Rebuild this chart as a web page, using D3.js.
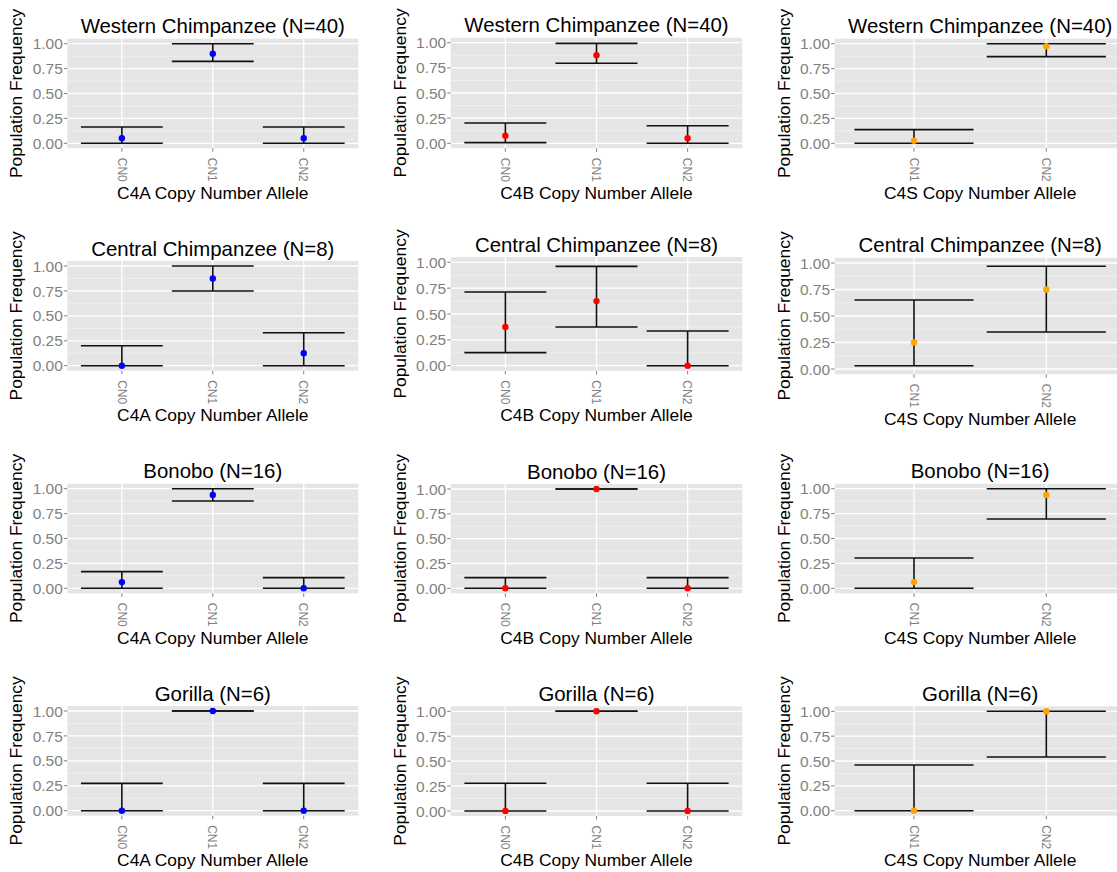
<!DOCTYPE html>
<html>
<head>
<meta charset="utf-8">
<script src="https://cdn.jsdelivr.net/npm/d3@7"></script>
<style>
  html, body { margin: 0; padding: 0; background: #ffffff; }
  svg { display: block; }
  text { font-family: "Liberation Sans", Arial, Helvetica, sans-serif; }
</style>
</head>
<body>
<svg id="chart" width="1117" height="872"></svg>
<script>
// ---------------- DATA ----------------
const speciesTitles = ["Western Chimpanzee (N=40)", "Central Chimpanzee (N=8)", "Bonobo (N=16)", "Gorilla (N=6)"];
const genes = ["C4A", "C4B", "C4S"];
const xTitles = ["C4A Copy Number Allele", "C4B Copy Number Allele", "C4S Copy Number Allele"];
const catsAB = ["CN0", "CN1", "CN2"];
const catsS = ["CN1", "CN2"];
const yTickValues = [0, 0.25, 0.5, 0.75, 1];
const yTickLabels = ["0.00", "0.25", "0.50", "0.75", "1.00"];
const yMinorValues = [0.125, 0.375, 0.625, 0.875];
const yTitle = "Population Frequency";

// rows = species, entries = categories
const c4aFreq = [[0.05, 0.9, 0.05], [0, 0.875, 0.125], [0.0625, 0.9375, 0], [0, 1, 0]];
const c4aLow  = [[0, 0.823, 0], [0, 0.75, 0], [0, 0.876, 0], [0, 1, 0]];
const c4aHigh = [[0.164, 1, 0.164], [0.2, 1, 0.33], [0.167, 1, 0.107], [0.274, 1, 0.274]];

const c4bFreq = [[0.075, 0.875, 0.05], [0.375, 0.625, 0], [0, 1, 0], [0, 1, 0]];
const c4bLow  = [[0.007, 0.795, 0], [0.126, 0.374, 0], [0, 1, 0], [0, 1, 0]];
const c4bHigh = [[0.202, 0.993, 0.175], [0.713, 0.961, 0.335], [0.107, 1, 0.107], [0.278, 1, 0.278]];

const c4sFreq = [[0.025, 0.975], [0.25, 0.75], [0.0625, 0.9375], [0, 1]];
const c4sLow  = [[0, 0.87], [0.031, 0.349], [0, 0.696], [0, 0.54]];
const c4sHigh = [[0.137, 1], [0.651, 0.969], [0.304, 1], [0.46, 1]];

// ---------------- LAYOUT / STYLE ----------------
const geneData = [
  { cats: catsAB, freq: c4aFreq, low: c4aLow, high: c4aHigh, color: "#0000FF" },
  { cats: catsAB, freq: c4bFreq, low: c4bLow, high: c4bHigh, color: "#FF0000" },
  { cats: catsS,  freq: c4sFreq, low: c4sLow, high: c4sHigh, color: "#FFA500" }
];
const colX = [[67.3, 358.3], [450.7, 742.3], [834.6, 1125.7]];
// pixel of value 1 and value 0 for each row/col
const rowY = [
  [[43.7, 143.3], [42.7, 143.3], [43.7, 143.3]],
  [[266, 365.7], [262.3, 365.7], [263, 369]],
  [[488.7, 588.3], [489, 588.3], [488.7, 588.3]],
  [[711, 810.7], [711.3, 811], [711.3, 810.7]]
];
const FS_TITLE = 20.4, FS_AXIS = 17.4, FS_YTICK = 15.5, FS_XTICK = 12;

const svg = d3.select("#chart");
svg.append("rect").attr("width", 1117).attr("height", 872).attr("fill", "#ffffff");

speciesTitles.forEach((title, r) => {
  genes.forEach((gene, c) => {
    const gd = geneData[c];
    const [x0, x1] = colX[c];
    const [py1, py0] = rowY[r][c];
    const y = d3.scaleLinear().domain([0, 1]).range([py0, py1]);
    const x = d3.scalePoint().domain(gd.cats).range([x0, x1]).padding(0.6);
    const step = x.step();
    const top = y(1.05), bottom = y(-0.05);
    const g = svg.append("g");

    g.append("rect").attr("x", x0).attr("y", top).attr("width", x1 - x0).attr("height", bottom - top)
      .attr("fill", "#E5E5E5");
    // minor grid
    g.selectAll(".minor").data(yMinorValues).join("line")
      .attr("x1", x0).attr("x2", x1).attr("y1", d => y(d)).attr("y2", d => y(d))
      .attr("stroke", "#F2F2F2").attr("stroke-width", 0.8);
    // major grid
    g.selectAll(".majorY").data(yTickValues).join("line")
      .attr("x1", x0).attr("x2", x1).attr("y1", d => y(d)).attr("y2", d => y(d))
      .attr("stroke", "#ffffff").attr("stroke-width", 1.3);
    g.selectAll(".majorX").data(gd.cats).join("line")
      .attr("x1", d => x(d)).attr("x2", d => x(d)).attr("y1", top).attr("y2", bottom)
      .attr("stroke", "#ffffff").attr("stroke-width", 1.3);

    // y axis ticks and labels
    yTickValues.forEach((v, i) => {
      g.append("line").attr("x1", x0 - 3.5).attr("x2", x0).attr("y1", y(v)).attr("y2", y(v))
        .attr("stroke", "#7F7F7F").attr("stroke-width", 1);
      g.append("text").attr("x", x0 - 4.5).attr("y", y(v)).attr("dy", "0.36em")
        .attr("text-anchor", "end").attr("font-size", FS_YTICK).attr("fill", "#7F7F7F")
        .text(yTickLabels[i]);
    });
    // x axis ticks and labels
    gd.cats.forEach(cat => {
      g.append("line").attr("x1", x(cat)).attr("x2", x(cat)).attr("y1", bottom).attr("y2", bottom + 3.5)
        .attr("stroke", "#7F7F7F").attr("stroke-width", 1);
      g.append("text")
        .attr("transform", `translate(${x(cat)},${bottom + 9.5}) rotate(90)`)
        .attr("dy", "0.36em").attr("text-anchor", "start")
        .attr("font-size", FS_XTICK).attr("fill", "#7F7F7F").text(cat);
    });

    // error bars
    gd.cats.forEach((cat, i) => {
      const cx = x(cat);
      const lo = gd.low[r][i], hi = gd.high[r][i];
      const hw = step * 0.45;
      g.append("line").attr("x1", cx).attr("x2", cx).attr("y1", y(lo)).attr("y2", y(hi))
        .attr("stroke", "#111111").attr("stroke-width", 1.6);
      [lo, hi].forEach(v => {
        g.append("line").attr("x1", cx - hw).attr("x2", cx + hw).attr("y1", y(v)).attr("y2", y(v))
          .attr("stroke", "#111111").attr("stroke-width", 1.6);
      });
    });
    // points
    gd.cats.forEach((cat, i) => {
      g.append("circle").attr("cx", x(cat)).attr("cy", y(gd.freq[r][i])).attr("r", 3.2)
        .attr("fill", gd.color);
    });

    // titles
    g.append("text").attr("x", (x0 + x1) / 2).attr("y", top - 5.5)
      .attr("text-anchor", "middle").attr("font-size", FS_TITLE).attr("fill", "#000").text(title);
    g.append("text").attr("x", (x0 + x1) / 2).attr("y", bottom + 50.5)
      .attr("text-anchor", "middle").attr("font-size", FS_AXIS).attr("fill", "#000").text(xTitles[c]);
    g.append("text")
      .attr("transform", `translate(${x0 - 45},${(top + bottom) / 2}) rotate(-90)`)
      .attr("text-anchor", "middle").attr("font-size", FS_AXIS).attr("fill", "#000").text(yTitle);
  });
});
</script>
</body>
</html>
